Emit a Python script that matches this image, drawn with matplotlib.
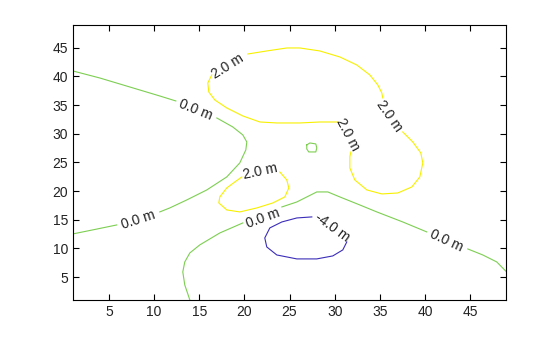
import numpy as np
import matplotlib
matplotlib.use("Agg")
import matplotlib.pyplot as plt

plt.rcParams['font.family'] = ['Liberation Sans', 'DejaVu Sans']

# contour polylines (data units), split where labels sit
green_a1_x = [1.0, 3.99, 7.31, 10.63, 12.41]
green_a1_y = [40.97, 39.74, 38.17, 36.60, 35.73]
green_a2_x = [16.95, 18.72, 19.83, 20.27, 20.16, 19.49, 18.05, 15.84, 13.62, 11.74, 10.63]
green_a2_y = [32.76, 31.19, 29.80, 28.57, 27.18, 24.91, 22.47, 20.20, 18.45, 17.06, 16.36]
green_a3_x = [5.87, 3.44, 1.0]
green_a3_y = [14.09, 13.30, 12.52]

green_b1_x = [13.96, 13.40, 13.18, 13.40, 13.96, 15.06, 17.28, 19.83]
green_b1_y = [1.0, 3.62, 5.89, 7.63, 9.20, 10.60, 12.69, 14.44]
green_b2_x = [24.15, 25.81, 28.02, 29.24, 30.57, 32.78, 34.67, 37.54, 40.20]
green_b2_y = [17.23, 18.10, 19.85, 19.85, 18.98, 17.58, 16.36, 14.61, 12.87]
green_b3_x = [44.74, 46.40, 47.95, 49.0]
green_b3_y = [9.90, 8.85, 7.63, 5.95]

green_c_x = [26.91, 27.25, 27.91, 28.02, 27.91, 27.13, 26.91, 26.91]
green_c_y = [28.05, 28.40, 28.23, 27.53, 26.83, 26.83, 27.35, 28.05]

yellow_a1_x = [20.38, 22.48, 24.70, 26.14, 28.35, 30.57, 32.45, 33.89, 34.78, 35.22, 35.33]
yellow_a1_y = [43.93, 44.46, 44.98, 44.98, 44.46, 43.41, 42.01, 40.27, 38.52, 37.13, 36.25]
yellow_a2_x = [37.54, 38.65, 39.54, 39.76, 39.43, 38.54, 36.99, 35.22, 33.56, 32.23, 31.68, 31.68, 31.79]
yellow_a2_y = [30.32, 28.57, 26.65, 24.91, 22.47, 20.72, 19.67, 19.50, 20.20, 21.94, 24.04, 25.96, 26.83]
yellow_a3_x = [30.35, 28.35, 26.14, 23.59, 21.71, 19.83, 18.05, 16.73, 16.06, 15.95, 16.39]
yellow_a3_y = [32.06, 32.06, 31.89, 31.89, 32.06, 33.11, 34.51, 35.90, 37.30, 38.87, 40.27]

yellow_b_x = [23.92, 24.70, 24.92, 24.48, 23.15, 21.38, 19.49, 18.05, 17.17, 17.28, 18.05, 18.94, 19.72]
yellow_b_y = [23.34, 21.94, 20.55, 18.98, 17.93, 17.06, 16.36, 16.71, 17.93, 18.98, 20.55, 21.59, 22.47]

blue_x = [31.34, 30.90, 29.79, 28.02, 25.81, 23.59, 22.48, 22.26, 22.82, 24.15, 25.81, 27.47]
blue_y = [11.12, 9.73, 8.68, 8.16, 8.16, 8.85, 10.25, 11.82, 13.57, 14.61, 15.31, 15.49]

# contour labels: text, x, y, angle
label_text = ['0.0 m', '0.0 m', '0.0 m', '0.0 m', '2.0 m', '2.0 m', '2.0 m', '2.0 m', '-4.0 m']
label_x = [14.62, 8.20, 22.04, 42.42, 18.17, 36.10, 31.45, 21.71, 29.79]
label_y = [34.16, 14.96, 15.31, 11.30, 41.84, 33.11, 29.80, 23.34, 13.74]
label_rot = [-22, 18, 20, -25, 32, -55, -62, 12, -36]

green = '#7dcf52'
yellow = '#f7f000'
blue = '#3b2db8'

fig, ax = plt.subplots(figsize=(5.6, 3.37), dpi=100)
fig.subplots_adjust(left=0.130, right=0.904, top=0.926, bottom=0.110)

for xs, ys in [(green_a1_x, green_a1_y), (green_a2_x, green_a2_y), (green_a3_x, green_a3_y),
               (green_b1_x, green_b1_y), (green_b2_x, green_b2_y), (green_b3_x, green_b3_y),
               (green_c_x, green_c_y)]:
    ax.plot(xs, ys, color=green, lw=0.8)
for xs, ys in [(yellow_a1_x, yellow_a1_y), (yellow_a2_x, yellow_a2_y), (yellow_a3_x, yellow_a3_y),
               (yellow_b_x, yellow_b_y)]:
    ax.plot(xs, ys, color=yellow, lw=0.8)
ax.plot(blue_x, blue_y, color=blue, lw=0.8)

for t, x, y, r in zip(label_text, label_x, label_y, label_rot):
    ax.text(x, y, t, rotation=r, rotation_mode='anchor', ha='center', va='center',
            fontsize=10, color='#222222')

ax.set_xlim(1, 49)
ax.set_ylim(1, 49)
ax.set_xticks(np.arange(5, 46, 5))
ax.set_yticks(np.arange(5, 46, 5))
ax.tick_params(direction='in', top=True, right=True, length=4, width=0.8,
               labelsize=10, labelcolor='#222222')
for s in ax.spines.values():
    s.set_linewidth(0.8)

plt.savefig('out.png', dpi=100)
